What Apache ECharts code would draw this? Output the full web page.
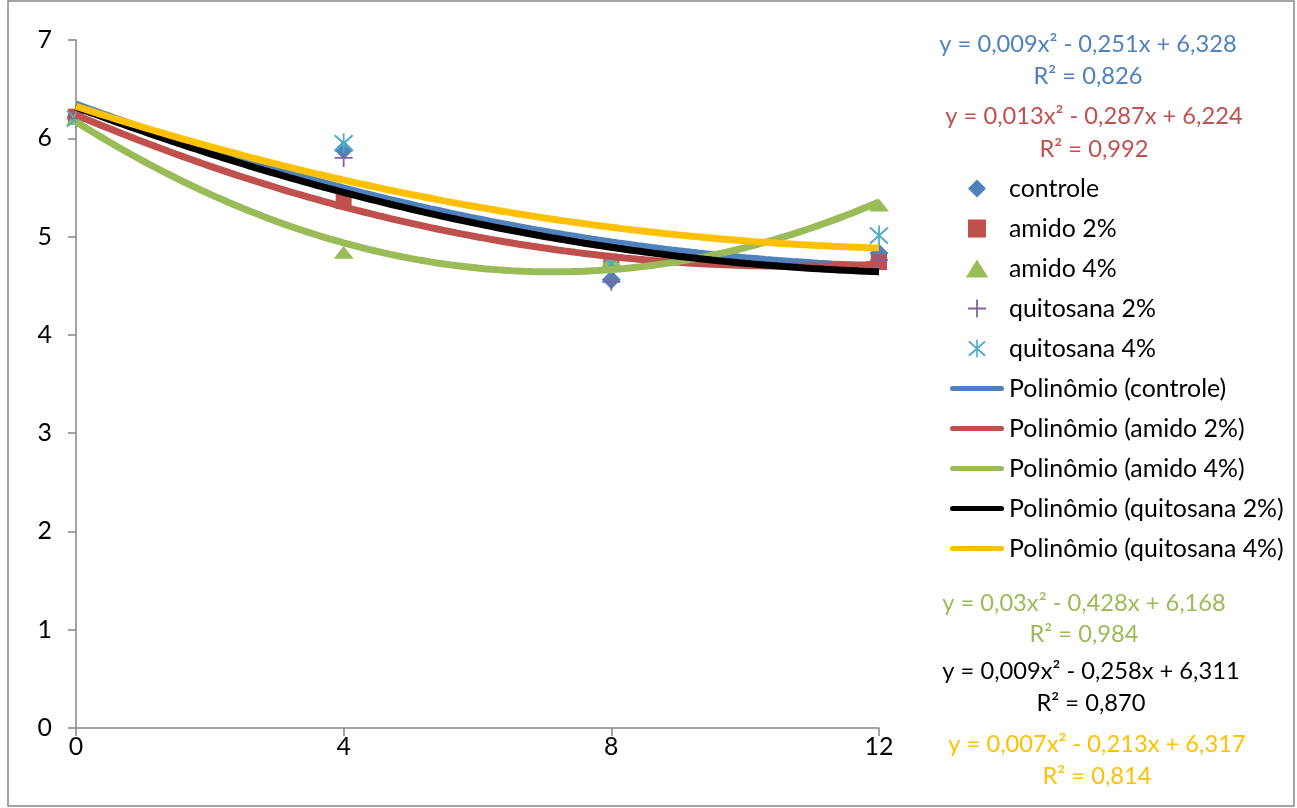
<!DOCTYPE html>
<html><head><meta charset="utf-8">
<script src="https://cdn.jsdelivr.net/npm/echarts@6/dist/echarts.min.js"></script>
<style>html,body{margin:0;padding:0;background:#fff}#c{width:1297px;height:808px}</style>
</head><body><div id="c"></div>
<script>
// ---- data ----
const xValues = [0, 4, 8, 12];
const controle   = [6.22, 5.88, 4.56, 4.83];
const amido2     = [6.22, 5.36, 4.74, 4.74];
const amido4     = [6.20, 4.84, 4.76, 5.32];
const quitosana2 = [6.20, 5.80, 4.54, 4.76];
const quitosana4 = [6.20, 5.95, 4.72, 5.01];
const seriesNames = ['controle', 'amido 2%', 'amido 4%', 'quitosana 2%', 'quitosana 4%'];
const trendNames = ['Polinômio (controle)', 'Polinômio (amido 2%)', 'Polinômio (amido 4%)', 'Polinômio (quitosana 2%)', 'Polinômio (quitosana 4%)'];
const equationTexts = ['y = 0,009x² - 0,251x + 6,328', 'y = 0,013x² - 0,287x + 6,224', 'y = 0,03x² - 0,428x + 6,168', 'y = 0,009x² - 0,258x + 6,311', 'y = 0,007x² - 0,213x + 6,317'];
const r2Texts = ['R² = 0,826', 'R² = 0,992', 'R² = 0,984', 'R² = 0,870', 'R² = 0,814'];

// ---- styling ----
const colors = ['#4F81BD', '#C0504D', '#9BBB59', '#000000', '#FFC000'];
const markerColors = ['#4F81BD', '#C0504D', '#9BBB59', '#8064A2', '#4BACC6'];
const FONT = 'Lato';
function fitSize(text, target) {
  const ctx = document.createElement('canvas').getContext('2d');
  ctx.font = '100px ' + FONT;
  return Math.round(100 * target / ctx.measureText(text).width * 10) / 10;
}
const FS = fitSize('Polinômio (quitosana 4%)', 275);
const EQFS = fitSize('y = 0,009x² - 0,251x + 6,328', 298);

const SYM = {
  diamond: 'path://M10,0 L20,10 L10,20 L0,10 Z',
  square: 'path://M0,0 H20 V20 H0 Z',
  triangle: 'path://M10,0 L20,16 L0,16 Z',
  plus: 'path://M9,0 H11 V9 H20 V11 H11 V20 H9 V11 H0 V9 H9 Z',
  star: 'path://M9.1,0 H10.9 V20 H9.1 Z M1.66,1.25 L19.66,17.25 L18.34,18.75 L0.34,2.75 Z M18.34,1.25 L19.66,2.75 L1.66,18.75 L0.34,17.25 Z'
};
const markerSym = [SYM.diamond, SYM.square, SYM.triangle, SYM.plus, SYM.star];
const markerSize = [19, 16, [20, 16], 18, 20];
const lineIcon = 'path://M2.5,0 H51.5 A2.5,2.5 0 0 1 51.5,5 H2.5 A2.5,2.5 0 0 1 2.5,0 Z';

function quadFit(xs, ys) {
  const S = [0, 0, 0, 0, 0], T = [0, 0, 0];
  xs.forEach((x, i) => {
    for (let k = 0; k < 5; k++) S[k] += Math.pow(x, k);
    for (let k = 0; k < 3; k++) T[k] += ys[i] * Math.pow(x, k);
  });
  const M = [[S[0], S[1], S[2], T[0]], [S[1], S[2], S[3], T[1]], [S[2], S[3], S[4], T[2]]];
  for (let i = 0; i < 3; i++) {
    for (let j = i + 1; j < 3; j++) {
      const f = M[j][i] / M[i][i];
      for (let k = i; k < 4; k++) M[j][k] -= f * M[i][k];
    }
  }
  const r = [0, 0, 0];
  for (let i = 2; i >= 0; i--) {
    let s = M[i][3];
    for (let k = i + 1; k < 3; k++) s -= M[i][k] * r[k];
    r[i] = s / M[i][i];
  }
  return r; // c, b, a
}
function trend(ys) {
  const [c, b, a] = quadFit(xValues, ys);
  const pts = [];
  const x0 = xValues[0], x1 = xValues[xValues.length - 1];
  for (let i = 0; i <= 120; i++) {
    const x = x0 + (x1 - x0) * i / 120;
    pts.push([x, c + b * x + a * x * x]);
  }
  return pts;
}

const allData = [controle, amido2, amido4, quitosana2, quitosana4];
const series = [];
allData.forEach((ys, i) => {
  series.push({
    name: seriesNames[i], type: 'scatter', z: 2,
    data: xValues.map((x, j) => [x, ys[j]]),
    symbol: markerSym[i], symbolSize: markerSize[i], symbolKeepAspect: true,
    itemStyle: { color: markerColors[i], opacity: 1 }, silent: true
  });
});
allData.forEach((ys, i) => {
  series.push({
    name: trendNames[i], type: 'line', z: 3, data: trend(ys),
    showSymbol: false, symbol: 'none', smooth: false, silent: true,
    color: colors[i], itemStyle: { color: colors[i] },
    lineStyle: { color: colors[i], width: 7 }
  });
});

const legendData = seriesNames.map((n, i) => ({ name: n, icon: markerSym[i] }))
  .concat(trendNames.map(n => ({ name: n, icon: lineIcon })));

const eqPos = [
  { x: 1088, y: 44, r: 76 },
  { x: 1094, y: 116, r: 149 },
  { x: 1084, y: 603, r: 634 },
  { x: 1091, y: 671, r: 703 },
  { x: 1097, y: 744, r: 776 }
];
const graphics = [{
  type: 'rect', shape: { x: 8, y: 1, width: 1286, height: 805 },
  style: { fill: 'none', stroke: '#868686', lineWidth: 1.5 }, silent: true, z: 0
}];
eqPos.forEach((p, i) => {
  graphics.push({ type: 'text', x: p.x, y: p.y, silent: true,
    style: { text: equationTexts[i], fill: colors[i], font: EQFS + 'px ' + FONT, align: 'center', verticalAlign: 'middle' } });
  graphics.push({ type: 'text', x: p.x, y: p.r, silent: true,
    style: { text: r2Texts[i], fill: colors[i], font: EQFS + 'px ' + FONT, align: 'center', verticalAlign: 'middle' } });
});

const axisCol = '#868686';
const option = {
  animation: false,
  backgroundColor: '#fff',
  grid: { left: 76, right: 418, top: 40, bottom: 80, containLabel: false, outerBoundsMode: 'none' },
  xAxis: {
    type: 'value', min: 0, max: 12, interval: 4,
    axisLine: { show: true, onZero: false, lineStyle: { color: axisCol, width: 1.5 } },
    axisTick: { show: true, length: 8, lineStyle: { color: axisCol, width: 1.5 } },
    splitLine: { show: false },
    axisLabel: { margin: 6, color: '#000', fontSize: FS, fontFamily: FONT }
  },
  yAxis: {
    type: 'value', min: 0, max: 7, interval: 1,
    axisLine: { show: true, onZero: false, lineStyle: { color: axisCol, width: 1.5 } },
    axisTick: { show: true, length: 8, lineStyle: { color: axisCol, width: 1.5 } },
    splitLine: { show: false },
    axisLabel: { margin: 24, color: '#000', fontSize: FS, fontFamily: FONT }
  },
  legend: {
    orient: 'vertical', left: 950, top: 176, itemWidth: 54, itemHeight: 18, itemGap: 15,
    selectedMode: false, symbolKeepAspect: true, padding: 0,
    itemStyle: { borderWidth: 0, opacity: 1 },
    textStyle: { color: '#000', fontSize: FS, fontFamily: FONT, lineHeight: 18 },
    data: legendData
  },
  graphic: graphics,
  series: series
};
const chart = echarts.init(document.getElementById('c'), null, { renderer: 'canvas' });
chart.setOption(option);
</script>
</body></html>
